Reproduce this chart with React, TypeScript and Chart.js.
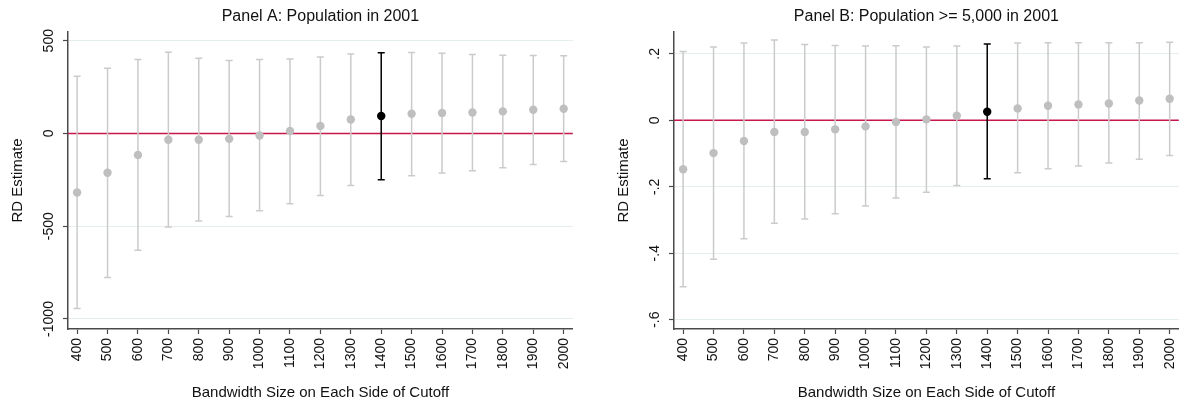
import React, { useEffect, useRef } from "react";
import { Chart, registerables } from "chart.js";

Chart.register(...registerables);

const BANDWIDTHS = [400, 500, 600, 700, 800, 900, 1000, 1100, 1200, 1300, 1400, 1500, 1600, 1700, 1800, 1900, 2000];
const HIGHLIGHT = 1400;

const A_EST = [-318, -212, -116, -34, -34, -29, -11, 13, 40, 75, 94, 106, 110, 113, 119, 128, 133];
const A_HI = [309, 352, 399, 438, 406, 393, 399, 402, 412, 429, 435, 436, 433, 426, 422, 420, 419];
const A_LO = [-944, -777, -630, -504, -472, -447, -416, -379, -334, -280, -249, -228, -213, -201, -185, -167, -151];
const A_TICKS = [-1000, -500, 0, 500];
const A_TICK_LABELS = ["-1000", "-500", "0", "500"];

const B_EST = [-0.147, -0.0985, -0.062, -0.035, -0.035, -0.027, -0.018, -0.005, 0.003, 0.014, 0.026, 0.036, 0.044, 0.048, 0.051, 0.06, 0.065];
const B_HI = [0.2075, 0.2205, 0.233, 0.242, 0.228, 0.2257, 0.2236, 0.2248, 0.2205, 0.2236, 0.2296, 0.233, 0.234, 0.234, 0.234, 0.234, 0.235];
const B_LO = [-0.501, -0.418, -0.356, -0.31, -0.297, -0.281, -0.258, -0.234, -0.216, -0.196, -0.176, -0.158, -0.146, -0.137, -0.128, -0.117, -0.106];
const B_TICKS = [-0.6, -0.4, -0.2, 0, 0.2];
const B_TICK_LABELS = ["-.6", "-.4", "-.2", "0", ".2"];

const FONT = "'Liberation Sans', Arial, sans-serif";
const TEXT = "#111111";
const AXIS = "#4a4a4a";

type PanelProps = {
  title: string;
  est: number[];
  lo: number[];
  hi: number[];
  yTicks: number[];
  yLabels: string[];
  yMin: number;
  yMax: number;
  yPad: number;
};

function Panel(props: PanelProps) {
  const ref = useRef<HTMLCanvasElement | null>(null);
  useEffect(() => {
    const canvas = ref.current;
    if (!canvas) return;
    const { title, est, lo, hi, yTicks, yLabels, yMin, yMax, yPad } = props;

    const decor = {
      id: "decor",
      beforeDatasetsDraw(chart: any) {
        const { ctx, chartArea, scales } = chart;
        const xs = scales.x;
        const ys = scales.y;
        ctx.save();
        // zero line
        const y0 = ys.getPixelForValue(0);
        ctx.strokeStyle = "#c8174a";
        ctx.lineWidth = 1.5;
        ctx.beginPath();
        ctx.moveTo(chartArea.left, y0);
        ctx.lineTo(chartArea.right, y0);
        ctx.stroke();
        // error bars
        for (let i = 0; i < BANDWIDTHS.length; i++) {
          const x = xs.getPixelForValue(BANDWIDTHS[i]);
          const yl = ys.getPixelForValue(lo[i]);
          const yh = ys.getPixelForValue(hi[i]);
          ctx.strokeStyle = BANDWIDTHS[i] === HIGHLIGHT ? "#000000" : "#cbcbcb";
          ctx.lineWidth = 1.5;
          ctx.beginPath();
          ctx.moveTo(x, yl);
          ctx.lineTo(x, yh);
          ctx.moveTo(x - 3.5, yl);
          ctx.lineTo(x + 3.5, yl);
          ctx.moveTo(x - 3.5, yh);
          ctx.lineTo(x + 3.5, yh);
          ctx.stroke();
        }
        ctx.restore();
      },
      afterDraw(chart: any) {
        const { ctx, chartArea } = chart;
        ctx.save();
        ctx.font = `16px ${FONT}`;
        ctx.fillStyle = TEXT;
        ctx.textAlign = "center";
        ctx.textBaseline = "middle";
        ctx.fillText(title, (chartArea.left + chartArea.right) / 2, 16.5);
        ctx.restore();
      },
    };

    const chart = new Chart(canvas, {
      type: "scatter",
      data: {
        datasets: [
          {
            data: BANDWIDTHS.map((b, i) => ({ x: b, y: est[i] })),
            pointRadius: 4.2,
            pointHoverRadius: 4.2,
            pointBorderWidth: 0,
            pointBackgroundColor: BANDWIDTHS.map((b) => (b === HIGHLIGHT ? "#000000" : "#bfbfbf")),
            showLine: false,
          },
        ],
      },
      options: {
        animation: false,
        responsive: false,
        events: [],
        layout: { padding: { left: 0, right: 2, top: 32, bottom: 0 } },
        plugins: { legend: { display: false }, tooltip: { enabled: false }, title: { display: false } },
        scales: {
          x: {
            type: "linear",
            min: 370,
            max: 2030,
            afterBuildTicks: (s: any) => {
              s.ticks = BANDWIDTHS.map((v) => ({ value: v }));
            },
            afterFit: (s: any) => {
              s.height = 79;
              s.paddingLeft = 0;
              s.paddingRight = 0;
            },
            grid: { display: true, drawOnChartArea: false, drawTicks: true, tickLength: 5, tickColor: AXIS, tickWidth: 1.2 },
            border: { display: true, color: AXIS, width: 1.5 },
            ticks: {
              autoSkip: false,
              minRotation: 90,
              maxRotation: 90,
              padding: 4,
              color: TEXT,
              font: { family: FONT, size: 14 },
              callback: (v: any) => String(v),
            },
            title: {
              display: true,
              text: "Bandwidth Size on Each Side of Cutoff",
              color: TEXT,
              font: { family: FONT, size: 15 },
              padding: { top: 0, bottom: 6 },
            },
          },
          y: {
            type: "linear",
            min: yMin,
            max: yMax,
            afterBuildTicks: (s: any) => {
              s.ticks = yTicks.map((v) => ({ value: v }));
            },
            afterFit: (s: any) => {
              s.width = 68;
            },
            grid: { display: true, drawOnChartArea: true, color: "#e4eeee", lineWidth: 1, drawTicks: true, tickLength: 5, tickColor: AXIS, tickWidth: 1.2 },
            border: { display: true, color: AXIS, width: 1.5 },
            ticks: {
              minRotation: 90,
              maxRotation: 90,
              crossAlign: "center",
              padding: yPad,
              color: TEXT,
              font: { family: FONT, size: 14 },
              callback: (v: any) => {
                const idx = yTicks.indexOf(v);
                return idx >= 0 ? yLabels[idx] : "";
              },
            },
            title: {
              display: true,
              text: "RD Estimate",
              color: TEXT,
              font: { family: FONT, size: 15 },
              padding: { top: 8.5, bottom: 0 },
            },
          },
        },
      },
      plugins: [decor],
    } as any);
    return () => chart.destroy();
  }, []);
  return <canvas ref={ref} width={577} height={408} style={{ display: "block", width: 577, height: 408 }} />;
}

export default function App() {
  return (
    <div style={{ position: "absolute", left: 0, top: 0, width: 1183, height: 408, background: "#ffffff", overflow: "hidden" }}>
      <div style={{ position: "absolute", left: 0, top: 0 }}>
        <Panel
          title="Panel A: Population in 2001"
          est={A_EST}
          lo={A_LO}
          hi={A_HI}
          yTicks={A_TICKS}
          yLabels={A_TICK_LABELS}
          yMin={-1054}
          yMax={547}
          yPad={-4}
        />
      </div>
      <div style={{ position: "absolute", left: 606, top: 0 }}>
        <Panel
          title="Panel B: Population >= 5,000 in 2001"
          est={B_EST}
          lo={B_LO}
          hi={B_HI}
          yTicks={B_TICKS}
          yLabels={B_TICK_LABELS}
          yMin={-0.628}
          yMax={0.266}
          yPad={6}
        />
      </div>
    </div>
  );
}
